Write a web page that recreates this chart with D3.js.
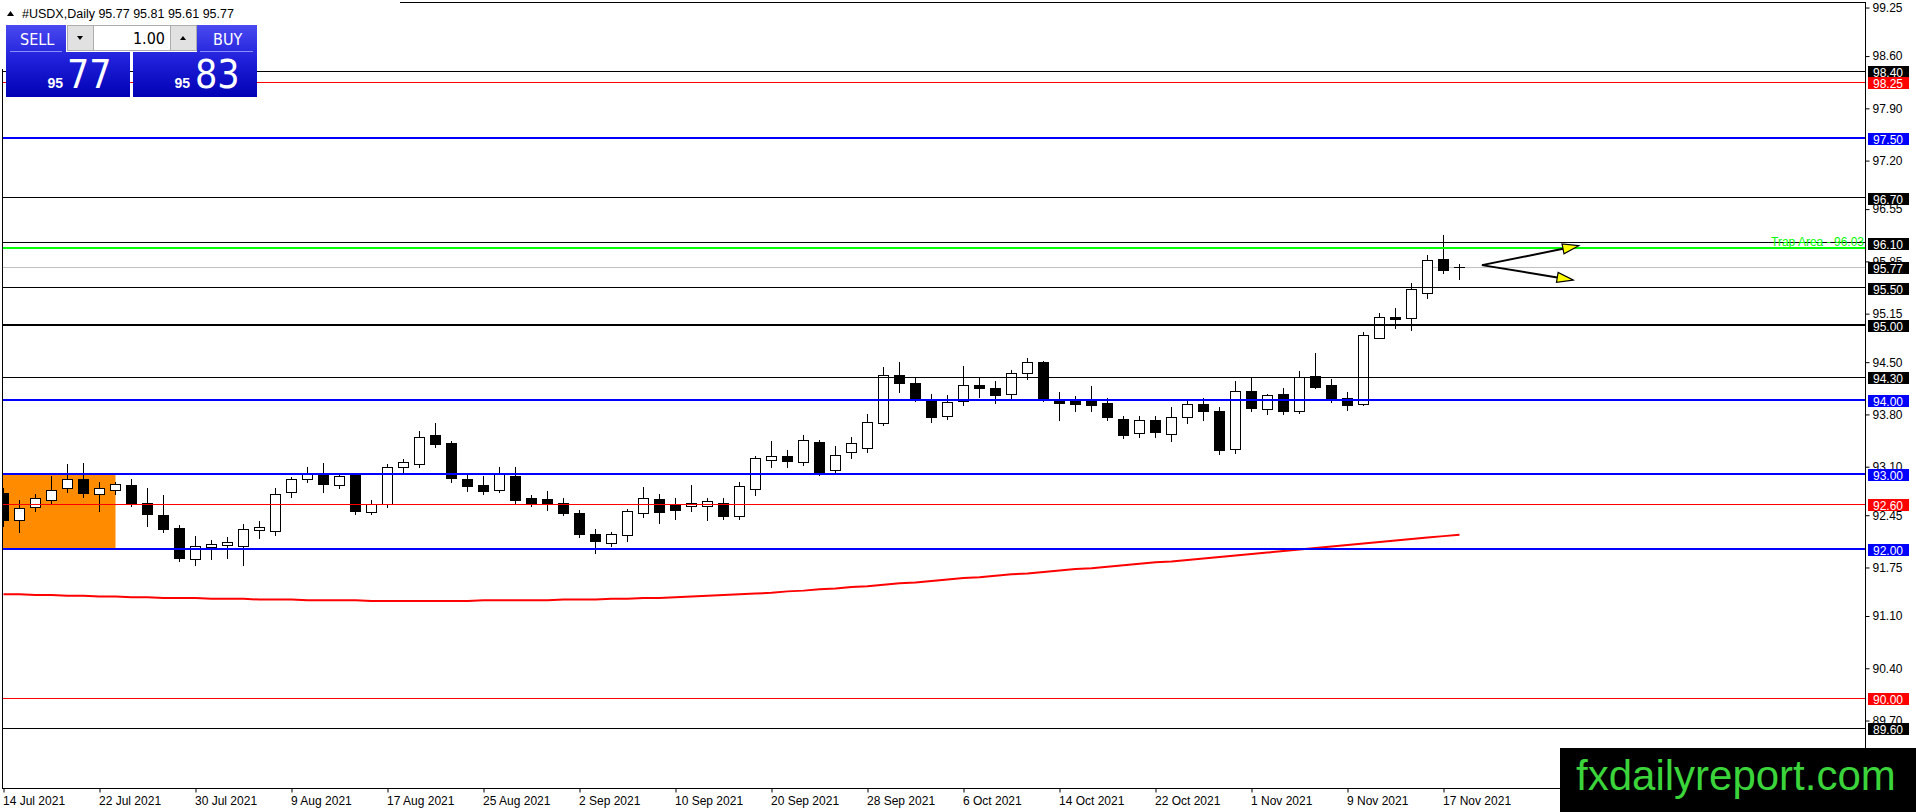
<!DOCTYPE html>
<html>
<head>
<meta charset="utf-8">
<script src="https://cdn.jsdelivr.net/npm/d3@7"></script>
<style>
html, body { margin: 0; padding: 0; background: #fff; overflow: hidden; }
svg { display: block; }
text { font-family: "Liberation Sans", Arial, sans-serif; }
.cond { font-family: "DejaVu Sans Condensed", "Roboto Condensed", "Liberation Sans Narrow", Roboto, sans-serif; }
</style>
</head>
<body>
<svg id="chart" width="1916" height="812"></svg>
<script>

// daily bars, 14 Jul 2021 .. 18 Nov 2021 (index 0 .. 91)
const opens = [
  92.75, 92.38, 92.56, 92.66, 92.81, 92.93, 92.74, 92.79, 92.86, 92.62,
  92.45, 92.28, 91.87, 92.02, 92.05, 92.04, 92.25, 92.24, 92.76, 92.94,
  93.02, 92.86, 92.99, 92.49, 92.60, 93.10, 93.14, 93.53, 93.42, 92.93,
  92.86, 92.79, 92.98, 92.68, 92.67, 92.62, 92.48, 92.20, 92.08, 92.18,
  92.48, 92.67, 92.59, 92.58, 92.58, 92.62, 92.44, 92.80, 93.19, 93.24,
  93.16, 93.43, 93.06, 93.30, 93.35, 93.68, 94.33, 94.22, 94.01, 93.78,
  93.98, 94.20, 94.16, 94.07, 94.35, 94.50, 94.00, 93.98, 93.98, 93.95,
  93.74, 93.55, 93.72, 93.54, 93.76, 93.94, 93.84, 93.34, 94.12, 93.87,
  94.08, 93.84, 94.32, 94.20, 94.02, 93.94, 94.83, 95.11, 95.09, 95.43,
  95.88, 95.77
];
const highs = [
  92.82, 92.66, 92.73, 92.98, 93.14, 93.15, 92.89, 92.89, 92.93, 92.81,
  92.72, 92.32, 92.17, 92.12, 92.16, 92.33, 92.37, 92.81, 92.96, 93.09,
  93.15, 92.99, 93.02, 92.65, 93.14, 93.20, 93.58, 93.68, 93.45, 93.00,
  92.98, 93.09, 93.10, 92.72, 92.77, 92.68, 92.52, 92.27, 92.22, 92.54,
  92.83, 92.73, 92.68, 92.85, 92.68, 92.68, 92.90, 93.24, 93.45, 93.32,
  93.52, 93.46, 93.38, 93.50, 93.80, 94.43, 94.50, 94.30, 94.07, 94.06,
  94.45, 94.30, 94.25, 94.40, 94.56, 94.52, 94.10, 94.05, 94.18, 94.02,
  93.78, 93.78, 93.78, 93.90, 94.00, 94.02, 93.90, 94.25, 94.30, 94.08,
  94.16, 94.38, 94.62, 94.28, 94.10, 94.90, 95.16, 95.23, 95.56, 95.94,
  96.21, 95.81
];
const lows = [
  92.30, 92.22, 92.50, 92.60, 92.76, 92.69, 92.50, 92.74, 92.58, 92.30,
  92.22, 91.84, 91.78, 91.86, 91.88, 91.78, 92.15, 92.18, 92.69, 92.90,
  92.76, 92.81, 92.46, 92.46, 92.56, 93.03, 93.10, 93.37, 92.90, 92.78,
  92.74, 92.76, 92.60, 92.57, 92.52, 92.45, 92.16, 91.94, 92.04, 92.10,
  92.42, 92.34, 92.40, 92.50, 92.38, 92.40, 92.40, 92.72, 93.10, 93.10,
  93.12, 92.99, 93.00, 93.22, 93.30, 93.66, 94.10, 93.98, 93.70, 93.74,
  93.93, 94.03, 93.95, 94.00, 94.28, 93.98, 93.73, 93.85, 93.85, 93.73,
  93.48, 93.50, 93.50, 93.45, 93.68, 93.72, 93.27, 93.28, 93.84, 93.80,
  93.80, 93.82, 94.15, 93.96, 93.86, 93.92, 94.82, 94.96, 94.93, 95.36,
  95.69, 95.61
];
const closes = [
  92.38, 92.55, 92.68, 92.79, 92.94, 92.75, 92.81, 92.87, 92.62, 92.46,
  92.27, 91.88, 92.04, 92.07, 92.09, 92.27, 92.29, 92.74, 92.94, 93.02,
  92.87, 92.97, 92.50, 92.60, 93.09, 93.16, 93.50, 93.40, 92.95, 92.84,
  92.77, 93.02, 92.66, 92.62, 92.61, 92.48, 92.20, 92.10, 92.20, 92.50,
  92.68, 92.49, 92.52, 92.62, 92.64, 92.44, 92.84, 93.22, 93.24, 93.18,
  93.46, 93.03, 93.26, 93.42, 93.70, 94.33, 94.22, 94.02, 93.76, 93.97,
  94.19, 94.15, 94.06, 94.35, 94.50, 94.02, 93.95, 93.94, 93.93, 93.76,
  93.52, 93.72, 93.56, 93.76, 93.94, 93.84, 93.32, 94.11, 93.88, 94.06,
  93.84, 94.30, 94.17, 94.00, 93.93, 94.86, 95.10, 95.08, 95.48, 95.87,
  95.74, 95.77
];

// moving average, one value per bar
const maValues = [
  91.39, 91.39, 91.38, 91.38, 91.37, 91.37, 91.36, 91.36, 91.35, 91.35,
  91.34, 91.34, 91.34, 91.33, 91.33, 91.33, 91.32, 91.32, 91.32, 91.31,
  91.31, 91.31, 91.31, 91.30, 91.30, 91.30, 91.30, 91.30, 91.30, 91.30,
  91.31, 91.31, 91.31, 91.31, 91.31, 91.32, 91.32, 91.32, 91.33, 91.33,
  91.34, 91.34, 91.35, 91.36, 91.37, 91.38, 91.39, 91.40, 91.41, 91.43,
  91.44, 91.46, 91.47, 91.49, 91.50, 91.52, 91.54, 91.55, 91.57, 91.59,
  91.61, 91.62, 91.64, 91.66, 91.67, 91.69, 91.71, 91.73, 91.74, 91.76,
  91.78, 91.80, 91.82, 91.83, 91.85, 91.87, 91.89, 91.91, 91.93, 91.95,
  91.97, 91.99, 92.01, 92.03, 92.05, 92.07, 92.09, 92.11, 92.13, 92.15,
  92.17, 92.19
];

const dateLabels = ["14 Jul 2021", "22 Jul 2021", "30 Jul 2021", "9 Aug 2021", "17 Aug 2021",
  "25 Aug 2021", "2 Sep 2021", "10 Sep 2021", "20 Sep 2021", "28 Sep 2021", "6 Oct 2021",
  "14 Oct 2021", "22 Oct 2021", "1 Nov 2021", "9 Nov 2021", "17 Nov 2021"];
const dateTickIndex = [0, 6, 12, 18, 24, 30, 36, 42, 48, 54, 60, 66, 72, 78, 84, 90];

const priceTicks = [99.25, 98.60, 97.90, 97.20, 96.55, 95.85, 95.15, 94.50,
  93.80, 93.10, 92.45, 91.75, 91.10, 90.40, 89.70];

// horizontal levels drawn on the chart
const blackLevels = [98.40, 96.70, 96.10, 95.50, 94.30, 89.60];
const heavyLevels = [95.00];
const blueLevels = [97.50, 94.00, 93.00, 92.00];
const redLevels = [98.25, 92.60, 90.00];
const trapLevel = 96.03;
const bidPrice = 95.77;
const askPrice = 95.83;
const lotSize = "1.00";

// orange box (bar index range and price range)
const zoneBars = [-2, 7];
const zonePrices = [92.00, 93.00];

// arrows: start point and two ends, in [bar index, price]
const arrowStart = [92.4, 95.80];
const arrowEnds = [[98.45, 96.06], [98.1, 95.60]];

const symbolTitle = "#USDX,Daily";

// ---------------------------------------------------------------

const svg = d3.select("#chart");
const W = 1916, H = 812;
const plot = { left: 3, right: 1866, top: 3, bottom: 789 };

const x = d3.scaleLinear().domain([0, 90]).range([3.5, 1443.5]);
const y = d3.scaleLinear().domain([89.60, 98.40]).range([728, 71]);

const crisp = (v, w) => (w % 2 ? Math.floor(v) + 0.5 : Math.round(v));
const fmt = d3.format(".2f");

svg.append("rect").attr("width", W).attr("height", H).attr("fill", "#fff");

const defs = svg.append("defs");
defs.append("clipPath").attr("id", "plotClip").append("rect")
  .attr("x", plot.left).attr("y", plot.top)
  .attr("width", plot.right - plot.left).attr("height", plot.bottom - plot.top);

const grad = defs.append("linearGradient").attr("id", "btnGrad")
  .attr("gradientUnits", "userSpaceOnUse")
  .attr("x1", 0).attr("y1", 25).attr("x2", 0).attr("y2", 97);
grad.append("stop").attr("offset", 0).attr("stop-color", "#4a4af0");
grad.append("stop").attr("offset", 0.45).attr("stop-color", "#2222dc");
grad.append("stop").attr("offset", 1).attr("stop-color", "#0000b4");

const g = svg.append("g").attr("clip-path", "url(#plotClip)");

// orange zone
g.append("rect")
  .attr("x", x(zoneBars[0]))
  .attr("width", x(zoneBars[1]) - x(zoneBars[0]))
  .attr("y", Math.round(y(zonePrices[1])))
  .attr("height", Math.round(y(zonePrices[0])) - Math.round(y(zonePrices[1])))
  .attr("fill", "#ff8c00");

// levels
function drawLevels(list, color, width) {
  g.append("g").selectAll("line").data(list).enter().append("line")
    .attr("x1", plot.left).attr("x2", plot.right)
    .attr("y1", d => crisp(y(d), width)).attr("y2", d => crisp(y(d), width))
    .attr("stroke", color).attr("stroke-width", width);
}
// bid line sits under the bars
drawLevels([bidPrice], "#c0c0c0", 1);

// candles
const bars = opens.map((o, i) => ({ i, o, h: highs[i], l: lows[i], c: closes[i] }));
const candle = g.append("g").selectAll("g").data(bars).enter().append("g");

candle.append("line")
  .attr("x1", d => Math.floor(x(d.i)) + 0.5)
  .attr("x2", d => Math.floor(x(d.i)) + 0.5)
  .attr("y1", d => Math.round(y(d.h)))
  .attr("y2", d => Math.round(y(d.l)) + 1)
  .attr("stroke", "#000").attr("stroke-width", 1);

candle.each(function (d) {
  const cx = Math.floor(x(d.i));
  const top = Math.round(y(Math.max(d.o, d.c)));
  const bot = Math.round(y(Math.min(d.o, d.c)));
  const sel = d3.select(this);
  if (bot - top < 1) {
    sel.append("line")
      .attr("x1", cx - 5).attr("x2", cx + 6)
      .attr("y1", top + 0.5).attr("y2", top + 0.5)
      .attr("stroke", "#000");
  } else {
    sel.append("rect")
      .attr("x", cx - 4.5).attr("width", 10)
      .attr("y", top + 0.5).attr("height", bot - top)
      .attr("fill", d.c >= d.o ? "#fff" : "#000")
      .attr("stroke", "#000").attr("stroke-width", 1);
  }
});

// moving average
g.append("path")
  .datum(maValues)
  .attr("d", d3.line().x((v, i) => x(i)).y(v => y(v)))
  .attr("fill", "none").attr("stroke", "#ff0000").attr("stroke-width", 2);

drawLevels(blackLevels, "#000", 1);
drawLevels(heavyLevels, "#000", 2);
drawLevels(redLevels, "#ff0000", 1);
drawLevels(blueLevels, "#0000ff", 2);
drawLevels([trapLevel], "#00ff00", 2);

g.append("text")
  .attr("x", plot.right - 2).attr("y", Math.round(y(trapLevel)) - 2)
  .attr("text-anchor", "end")
  .style("font-size", "12px").attr("fill", "#00ff00")
  .text("Trap Area - " + fmt(trapLevel));

// arrows
const ax0 = x(arrowStart[0]), ay0 = y(arrowStart[1]);
arrowEnds.forEach(e => {
  const ex = x(e[0]), ey = y(e[1]);
  const ang = Math.atan2(ey - ay0, ex - ax0);
  const len = 16, half = 5;
  const bx = ex - len * Math.cos(ang), by = ey - len * Math.sin(ang);
  const nx = -Math.sin(ang) * half, ny = Math.cos(ang) * half;
  g.append("line")
    .attr("x1", ax0).attr("y1", ay0).attr("x2", bx).attr("y2", by)
    .attr("stroke", "#000").attr("stroke-width", 2);
  g.append("polygon")
    .attr("points", [[ex, ey], [bx + nx, by + ny], [bx - nx, by - ny]].map(p => p.join(",")).join(" "))
    .attr("fill", "#ffff00").attr("stroke", "#000").attr("stroke-width", 1.2)
    .attr("stroke-linejoin", "miter");
});

// frame
svg.append("rect")
  .attr("x", plot.left - 0.5).attr("y", plot.top - 0.5)
  .attr("width", plot.right - plot.left).attr("height", plot.bottom - plot.top)
  .attr("fill", "none").attr("stroke", "#000").attr("stroke-width", 1);

// price axis
const yAxis = svg.append("g")
  .attr("transform", `translate(${plot.right - 0.5},0)`)
  .call(d3.axisRight(y).tickValues(priceTicks).tickSize(4).tickPadding(3).tickFormat(fmt));
yAxis.select(".domain").remove();
yAxis.selectAll("text").style("font-size", "12px").style("font-family", "\"Liberation Sans\", Arial, sans-serif").attr("fill", "#000");
yAxis.selectAll("line").attr("stroke", "#000");

// time axis
const xAxis = svg.append("g")
  .attr("transform", `translate(0,${plot.bottom - 0.5})`)
  .call(d3.axisBottom(x).tickValues(dateTickIndex).tickSize(4).tickPadding(4)
    .tickFormat((d, i) => dateLabels[i]));
xAxis.select(".domain").remove();
xAxis.selectAll("text").attr("text-anchor", "start").attr("dx", -1)
  .style("font-size", "12px").style("font-family", "\"Liberation Sans\", Arial, sans-serif").attr("fill", "#000");
xAxis.selectAll("line").attr("stroke", "#000");

// level labels on the price axis
const tags = [].concat(
  blackLevels.map(v => [v, "#000"]),
  heavyLevels.map(v => [v, "#000"]),
  [[bidPrice, "#000"]],
  redLevels.map(v => [v, "#ff0000"]),
  blueLevels.map(v => [v, "#0000ff"])
);
const tag = svg.append("g").selectAll("g").data(tags).enter().append("g");
tag.append("rect")
  .attr("x", plot.right + 2).attr("width", 41)
  .attr("y", d => Math.round(y(d[0])) - 5).attr("height", 12)
  .attr("fill", d => d[1]);
tag.append("text")
  .attr("x", plot.right + 7).attr("y", d => Math.round(y(d[0])) + 5.5)
  .style("font-size", "12px").attr("fill", "#fff")
  .text(d => fmt(d[0]));

// header and one-click panel
svg.append("rect").attr("x", 0).attr("y", 0).attr("width", 400).attr("height", 69).attr("fill", "#fff");
svg.append("path").attr("d", "M7,16 L14,16 L10.5,11 Z").attr("fill", "#000");
svg.append("text").attr("x", 22).attr("y", 17.5).style("font-size", "12.5px").attr("fill", "#000")
  .text(symbolTitle + "  " + [opens[91], highs[91], lows[91], closes[91]].map(fmt).join(" "));

const panel = svg.append("g");
// sell
panel.append("rect").attr("x", 6).attr("y", 25).attr("width", 60).attr("height", 28).attr("fill", "url(#btnGrad)");
panel.append("rect").attr("x", 6).attr("y", 52).attr("width", 124).attr("height", 45).attr("fill", "url(#btnGrad)");
// buy
panel.append("rect").attr("x", 197).attr("y", 25).attr("width", 60).attr("height", 28).attr("fill", "url(#btnGrad)");
panel.append("rect").attr("x", 133).attr("y", 52).attr("width", 124).attr("height", 45).attr("fill", "url(#btnGrad)");
panel.append("line").attr("x1", 10).attr("x2", 62).attr("y1", 51.5).attr("y2", 51.5).attr("stroke", "#8c8cff");
panel.append("line").attr("x1", 200).attr("x2", 253).attr("y1", 51.5).attr("y2", 51.5).attr("stroke", "#8c8cff");

// lot box
panel.append("rect").attr("x", 67.5).attr("y", 25.5).attr("width", 129).attr("height", 25).attr("fill", "#e1e1e1").attr("stroke", "#adadad");
panel.append("rect").attr("x", 93.5).attr("y", 25.5).attr("width", 77).attr("height", 25).attr("fill", "#fff").attr("stroke", "#adadad");
panel.append("path").attr("d", "M77,36 L83,36 L80,40 Z").attr("fill", "#000");
panel.append("path").attr("d", "M180,40 L186,40 L183,36 Z").attr("fill", "#000");
panel.append("text").attr("class", "cond").attr("x", 165).attr("y", 44).attr("text-anchor", "end")
  .style("font-size", "16px").attr("fill", "#000").text(lotSize);

panel.append("text").attr("class", "cond").attr("x", 20).attr("y", 45).style("font-size", "16px").attr("fill", "#fff").text("SELL");
panel.append("text").attr("class", "cond").attr("x", 213).attr("y", 45).style("font-size", "16px").attr("fill", "#fff").text("BUY");

function priceParts(v) {
  const s = fmt(v).split(".");
  return [s[0], s[1]];
}
const sp = priceParts(bidPrice), bp = priceParts(askPrice);
panel.append("text").attr("x", 63).attr("y", 88).attr("text-anchor", "end").style("font-size", "14px").style("font-weight", "bold").attr("fill", "#fff").text(sp[0]);
panel.append("text").attr("class", "cond").attr("x", 67).attr("y", 88).style("font-size", "39px").attr("fill", "#fff").text(sp[1]);
panel.append("text").attr("x", 190).attr("y", 88).attr("text-anchor", "end").style("font-size", "14px").style("font-weight", "bold").attr("fill", "#fff").text(bp[0]);
panel.append("text").attr("class", "cond").attr("x", 195).attr("y", 88).style("font-size", "39px").attr("fill", "#fff").text(bp[1]);

// watermark
svg.append("rect").attr("x", 1560).attr("y", 748).attr("width", W - 1560).attr("height", H - 748).attr("fill", "#000");
svg.append("text").attr("x", 1576).attr("y", 790).style("font-size", "42px").attr("fill", "#3bd43b").text("fxdailyreport.com");

</script>
</body>
</html>
